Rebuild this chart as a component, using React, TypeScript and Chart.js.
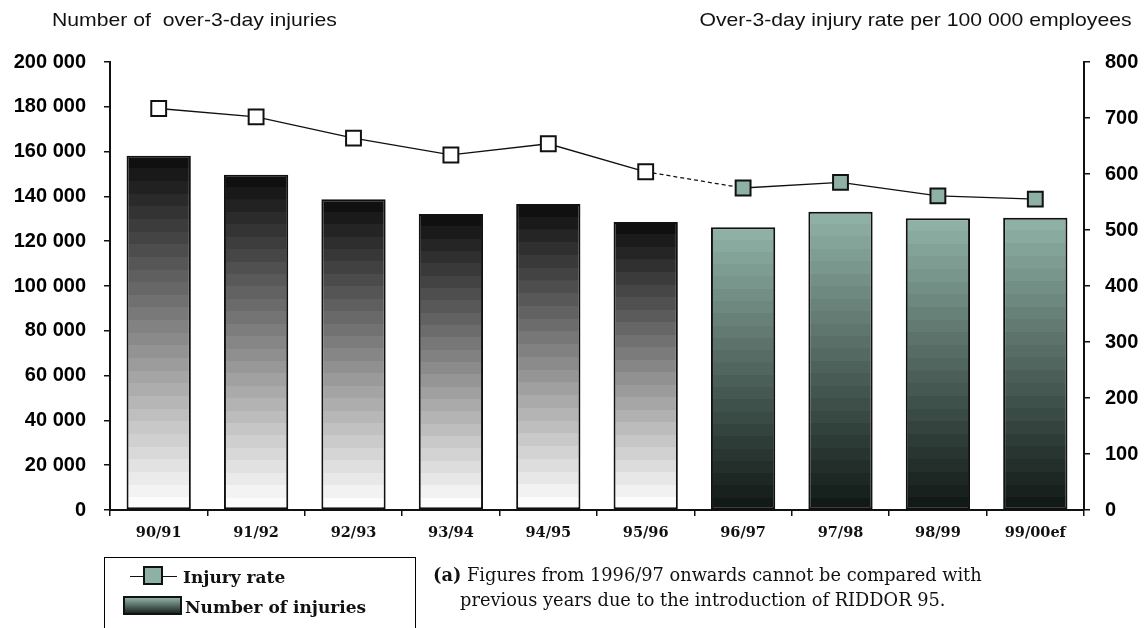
import React, { useEffect, useRef } from "react";
import { Chart, registerables } from "chart.js";

Chart.register(...registerables);

// ---- data ----
const categories = ["90/91", "91/92", "92/93", "93/94", "94/95", "95/96", "96/97", "97/98", "98/99", "99/00ef"];
const injuries = [158200, 149700, 138700, 132100, 136600, 128600, 126200, 133200, 130200, 130500];
const injuryRate = [717, 702, 664, 634, 654, 604, 575, 585, 561, 555];
const riddorStartIndex = 6; // first year under RIDDOR 95
const leftAxisMax = 200000;
const leftAxisStep = 20000;
const rightAxisMax = 800;
const rightAxisStep = 100;

const leftTitle = "Number of  over-3-day injuries";
const rightTitle = "Over-3-day injury rate per 100 000 employees";
const legendRate = "Injury rate";
const legendCount = "Number of injuries";
const noteLabel = "(a)";
const noteLine1 = " Figures from 1996/97 onwards cannot be compared with";
const noteLine2 = "previous years due to the introduction of RIDDOR 95.";

const SAGE = "#8fb0a5";

function fmt(v: number) {
  return String(v).replace(/\B(?=(\d{3})+(?!\d))/g, " ");
}

function stepped(
  c2d: CanvasRenderingContext2D,
  top: number,
  bottom: number,
  from: number[],
  to: number[],
  n: number
) {
  const g = c2d.createLinearGradient(0, top, 0, bottom);
  for (let i = 0; i < n; i++) {
    const t = n > 1 ? i / (n - 1) : 0;
    const r = Math.round(from[0] + (to[0] - from[0]) * t);
    const gg = Math.round(from[1] + (to[1] - from[1]) * t);
    const b = Math.round(from[2] + (to[2] - from[2]) * t);
    const col = `rgb(${r},${gg},${b})`;
    g.addColorStop(i / n, col);
    g.addColorStop(Math.min(1, (i + 1) / n - 0.0001), col);
  }
  return g;
}

export default function App() {
  const ref = useRef<HTMLCanvasElement>(null);

  useEffect(() => {
    if (!ref.current) return;
    const chart = new Chart(ref.current, {
      type: "bar",
      data: {
        labels: categories,
        datasets: [
          {
            type: "line",
            label: legendRate,
            data: injuryRate,
            yAxisID: "y1",
            order: 0,
            borderColor: "#111",
            borderWidth: 1.3,
            pointStyle: "rect",
            pointRadius: 10.5,
            pointHoverRadius: 10.5,
            pointBorderWidth: 2,
            pointBorderColor: "#111",
            pointBackgroundColor: injuryRate.map((_, i) => (i < riddorStartIndex ? "#ffffff" : SAGE)),
            segment: {
              borderDash: (s: any) => (s.p0DataIndex === riddorStartIndex - 1 ? [4, 3] : []),
            },
          } as any,
          {
            type: "bar",
            label: legendCount,
            data: injuries,
            yAxisID: "y",
            order: 1,
            barPercentage: 0.66,
            categoryPercentage: 1,
            borderColor: "#111",
            borderWidth: 2,
            borderSkipped: false,
            backgroundColor: (c: any) => {
              if (c.type !== "data") return "#888";
              const ys = c.chart.scales.y;
              if (!ys) return "#888";
              const top = ys.getPixelForValue(c.raw);
              const bottom = ys.getPixelForValue(0);
              if (!isFinite(top) || !isFinite(bottom) || bottom - top < 1) return "#888";
              const n = Math.max(2, Math.round((bottom - top) / 12.5));
              return c.dataIndex < riddorStartIndex
                ? stepped(c.chart.ctx, top, bottom, [16, 16, 16], [252, 252, 252], n)
                : stepped(c.chart.ctx, top, bottom, [143, 177, 165], [18, 26, 23], n);
            },
          } as any,
        ],
      },
      options: {
        responsive: false,
        animation: false,
        devicePixelRatio: 1,
        layout: { padding: { top: 62, bottom: 88, left: 0, right: 0 } },
        plugins: { legend: { display: false }, tooltip: { enabled: false } },
        scales: {
          x: {
            type: "category",
            offset: true,
            grid: { offset: true, drawOnChartArea: false, tickLength: 6, color: "#111", lineWidth: 1.5 },
            border: { display: true, color: "#111", width: 2 },
            ticks: {
              color: "#111",
              padding: 9,
              maxRotation: 0,
              autoSkip: false,
              font: { family: "'DejaVu Serif', serif", weight: "bold", size: 14.5 },
            },
            afterFit: (s: any) => {
              s.height = 30;
            },
          },
          y: {
            position: "left",
            min: 0,
            max: leftAxisMax,
            grid: { drawOnChartArea: false, tickLength: 6, color: "#111", lineWidth: 1.5 },
            border: { display: true, color: "#111", width: 2 },
            ticks: {
              stepSize: leftAxisStep,
              color: "#000",
              padding: 18,
              callback: (v: any) => fmt(Number(v)),
              font: { family: "'Liberation Sans', Arial, sans-serif", weight: "bold", size: 20 },
            },
            afterFit: (s: any) => {
              s.width = 110;
            },
          },
          y1: {
            position: "right",
            min: 0,
            max: rightAxisMax,
            grid: { drawOnChartArea: false, tickLength: 6, color: "#111", lineWidth: 1.5 },
            border: { display: true, color: "#111", width: 2 },
            ticks: {
              stepSize: rightAxisStep,
              color: "#000",
              padding: 15,
              callback: (v: any) => fmt(Number(v)),
              font: { family: "'Liberation Sans', Arial, sans-serif", weight: "bold", size: 20 },
            },
            afterFit: (s: any) => {
              s.width = 63;
            },
          },
        },
      } as any,
    });
    return () => chart.destroy();
  }, []);

  const sans = "'Liberation Sans', Arial, sans-serif";
  const serif = "'DejaVu Serif', serif";

  return (
    <div style={{ position: "absolute", left: 0, top: 0, width: 1147, height: 628, overflow: "hidden", background: "#fff" }}>
      <canvas ref={ref} width={1147} height={628} style={{ position: "absolute", left: 0, top: 0, display: "block" }} />
      <div
        style={{
          position: "absolute", left: 52, top: 8, font: `19px ${sans}`, lineHeight: "24px", whiteSpace: "pre",
          transform: "scaleX(1.115)", transformOrigin: "left top", color: "#111",
        }}
      >
        {leftTitle}
      </div>
      <div
        style={{
          position: "absolute", right: 15, top: 8, font: `19px ${sans}`, lineHeight: "24px", whiteSpace: "pre",
          transform: "scaleX(1.115)", transformOrigin: "right top", color: "#111",
        }}
      >
        {rightTitle}
      </div>

      {/* legend */}
      <div style={{ position: "absolute", left: 104, top: 557, width: 312, height: 90, border: "1px solid #000", boxSizing: "border-box" }} />
      <div style={{ position: "absolute", left: 130, top: 576, width: 47, height: 1.3, background: "#111" }} />
      <div style={{ position: "absolute", left: 143, top: 566, width: 20, height: 19, boxSizing: "border-box", border: "2px solid #111", background: SAGE }} />
      <div style={{ position: "absolute", left: 183, top: 566, font: `bold 17px ${serif}`, lineHeight: "22px", whiteSpace: "pre", color: "#111" }}>{legendRate}</div>
      <div
        style={{
          position: "absolute", left: 123, top: 596, width: 59, height: 19, boxSizing: "border-box", border: "2px solid #111",
          background: "linear-gradient(#8fb0a5, #1c2622)",
        }}
      />
      <div style={{ position: "absolute", left: 185, top: 596, font: `bold 17px ${serif}`, lineHeight: "22px", whiteSpace: "pre", color: "#111" }}>{legendCount}</div>

      {/* footnote */}
      <div style={{ position: "absolute", left: 433, top: 563, font: `17.8px ${serif}`, lineHeight: "24px", whiteSpace: "pre", color: "#111" }}>
        <b>{noteLabel}</b>
        {noteLine1}
      </div>
      <div style={{ position: "absolute", left: 460, top: 588, font: `17.8px ${serif}`, lineHeight: "24px", whiteSpace: "pre", color: "#111" }}>
        {noteLine2}
      </div>
    </div>
  );
}
